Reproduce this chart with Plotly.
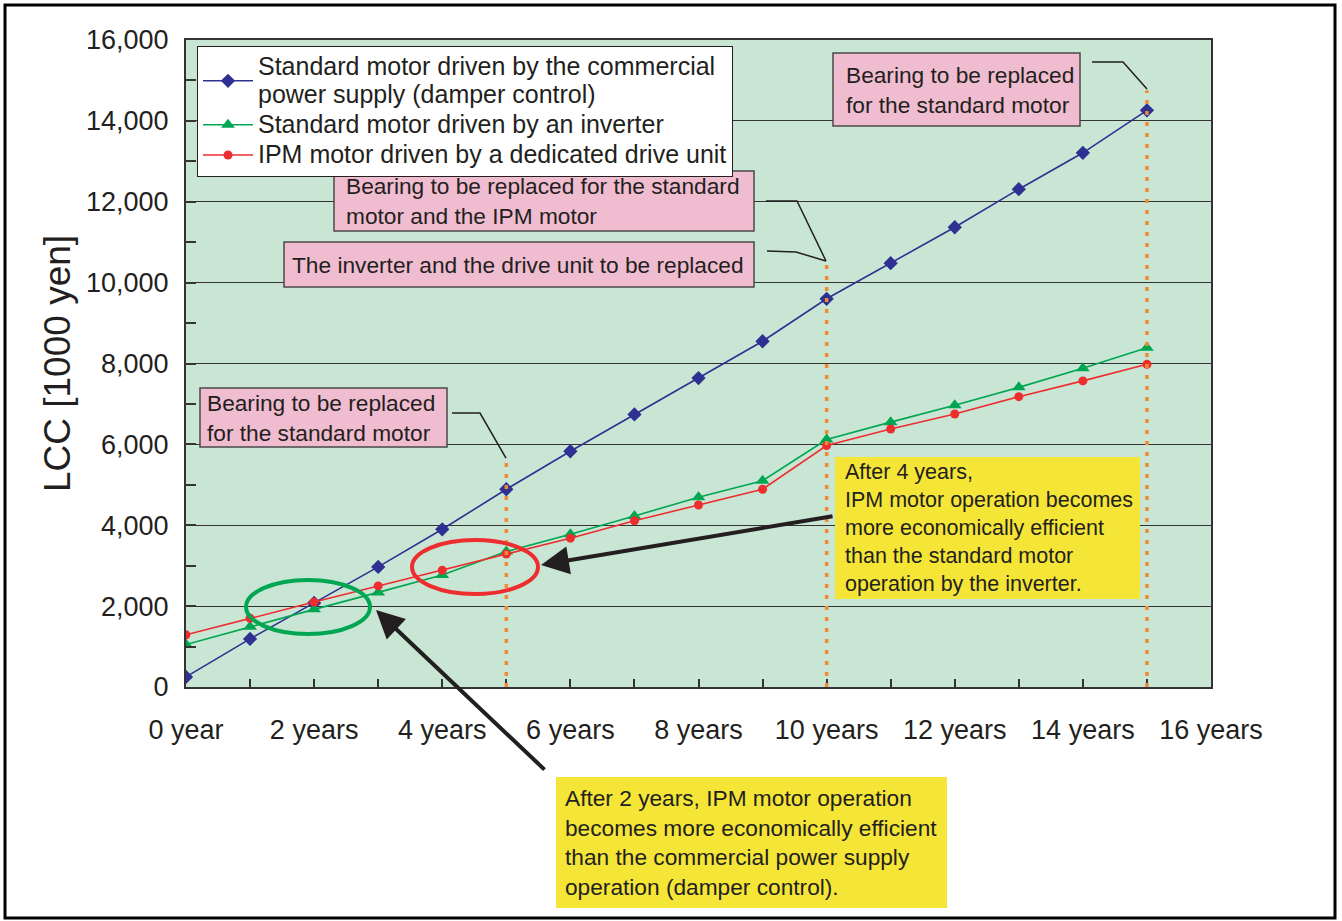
import plotly.graph_objects as go

# ---- data (LCC in 1000 yen) ----
years = list(range(0, 16))
commercial = [250, 1190, 2080, 2970, 3900, 4890, 5830, 6740, 7640, 8550,
              9600, 10480, 11370, 12310, 13210, 14260]
inverter = [1050, 1490, 1920, 2340, 2770, 3350, 3780, 4230, 4690, 5100,
            6120, 6550, 6970, 7410, 7880, 8390]
ipm = [1290, 1700, 2100, 2500, 2890, 3290, 3680, 4110, 4500, 4890,
       5970, 6380, 6750, 7180, 7570, 7980]

series_names = [
    "Standard motor driven by the commercial<br>power supply (damper control)",
    "Standard motor driven by an inverter",
    "IPM motor driven by a dedicated drive unit",
]

x_tick_vals = list(range(0, 17))
x_tick_text = ["0 year", "", "2 years", "", "4 years", "", "6 years", "",
               "8 years", "", "10 years", "", "12 years", "", "14 years", "",
               "16 years"]
y_tick_vals = [0, 2000, 4000, 6000, 8000, 10000, 12000, 14000, 16000]
y_tick_text = ["0", "2,000", "4,000", "6,000", "8,000", "10,000", "12,000",
               "14,000", "16,000"]

# replacement events: year and height of the dotted marker line
event_years = [5, 10, 15]
event_tops = [5660, 10560, 14760]

# ---- geometry of the plotting box (pixels) ----
W, H = 1342, 921
L, R, T, B = 186, 1211, 40, 687


def pp(xp, yp):
    """pixel position -> paper coordinates"""
    return (xp - L) / (R - L), (B - yp) / (B - T)


FONT = "Liberation Sans, Arial, sans-serif"
TXT = "#231F20"
BLUE, GREEN, RED = "#2E3192", "#00A651", "#EE2D2F"
ORANGE = "#F08A33"
PINK, YELLOW = "#F0BCD0", "#F5E536"
LEGEND_TEXT_PX = 25


def legend_label(name):
    return f'<span style="font-size:{LEGEND_TEXT_PX}px">{name}</span>'


fig = go.Figure()
fig.add_trace(go.Scatter(x=years, y=commercial, mode="lines+markers",
                         name=legend_label(series_names[0]),
                         line=dict(color=BLUE, width=1.6),
                         marker=dict(symbol="diamond", size=11, color=BLUE)))
fig.add_trace(go.Scatter(x=years, y=inverter, mode="lines+markers",
                         name=legend_label(series_names[1]),
                         line=dict(color=GREEN, width=1.6),
                         marker=dict(symbol="triangle-up", size=12, color=GREEN)))
fig.add_trace(go.Scatter(x=years, y=ipm, mode="lines+markers",
                         name=legend_label(series_names[2]),
                         line=dict(color=RED, width=1.6),
                         marker=dict(symbol="circle", size=9, color=RED)))

shapes = []
# dotted replacement markers
for yr, top in zip(event_years, event_tops):
    shapes.append(dict(type="line", xref="x", yref="y", x0=yr, x1=yr,
                       y0=0, y1=top,
                       line=dict(color=ORANGE, width=3.5, dash="4px,7px")))


def path(points):
    s = ""
    for i, (xp, yp) in enumerate(points):
        px_, py_ = pp(xp, yp)
        s += ("M" if i == 0 else "L") + f"{px_:.5f},{py_:.5f}"
    return s


# leader lines from the labels to the markers
leaders = [
    [(452, 413), (480, 413), (506, 458)],
    [(766, 201), (797, 201), (826, 261)],
    [(767, 251), (796, 252), (826, 261)],
    [(1092, 62), (1123, 62), (1147, 89)],
]
for pts in leaders:
    shapes.append(dict(type="path", xref="paper", yref="paper", path=path(pts),
                       line=dict(color=TXT, width=1.5)))

# ellipses highlighting the crossover points
for (x0, y0, x1, y1), col in [((246, 580, 370, 634), GREEN),
                              ((412, 540, 538, 594), RED)]:
    a0, b0 = pp(x0, y1)
    a1, b1 = pp(x1, y0)
    shapes.append(dict(type="circle", xref="paper", yref="paper",
                       x0=a0, y0=b0, x1=a1, y1=b1,
                       line=dict(color=col, width=4)))

# outer frame
f0 = pp(5, 918)
f1 = pp(1335, 5)
shapes.append(dict(type="rect", xref="paper", yref="paper",
                   x0=f0[0], y0=f0[1], x1=f1[0], y1=f1[1],
                   line=dict(color="black", width=3), layer="below"))

annotations = []


def box(text, x0, y0, x1, y1, text_x, bg, border, size):
    a0, b0 = pp(x0, y1)
    a1, b1 = pp(x1, y0)
    shapes.append(dict(type="rect", xref="paper", yref="paper",
                       x0=a0, y0=b0, x1=a1, y1=b1, fillcolor=bg,
                       line=dict(color=border if border else bg,
                                 width=1.5 if border else 0)))
    tx, ty = pp(text_x, (y0 + y1) / 2)
    annotations.append(dict(
        text=text, xref="paper", yref="paper", x=tx, y=ty,
        xanchor="left", yanchor="middle", showarrow=False, align="left",
        borderpad=0, font=dict(family=FONT, size=size, color=TXT)))


box("Bearing to be replaced<br>for the standard motor",
    200, 388, 447, 447, 206, PINK, "#4a4a4a", 22.7)
box("Bearing to be replaced for the standard<br>motor and the IPM motor",
    334, 171, 754, 231, 345, PINK, "#4a4a4a", 22.7)
box("The inverter and the drive unit to be replaced",
    284, 242, 754, 287, 291, PINK, "#4a4a4a", 22.7)
box("Bearing to be replaced<br>for the standard motor",
    833, 53, 1080, 126, 845, PINK, "#4a4a4a", 22.7)
box("After 4 years,<br>IPM motor operation becomes<br>more economically efficient"
    "<br>than the standard motor<br>operation by the inverter.",
    835, 457, 1140, 599, 844, YELLOW, None, 21.5)
box("After 2 years, IPM motor operation<br>becomes more economically efficient"
    "<br>than the commercial power supply<br>operation (damper control).",
    556, 777, 947, 908, 564, YELLOW, None, 22.7)

# arrows pointing at the highlighted regions
for (hx, hy), (tx, ty) in [((376, 610), (546, 771)), ((541, 565), (834, 516))]:
    hxp, hyp = pp(hx, hy)
    annotations.append(dict(text="", xref="paper", yref="paper", x=hxp, y=hyp,
                            ax=tx - hx, ay=ty - hy, axref="pixel", ayref="pixel",
                            showarrow=True, arrowhead=2, arrowsize=1.4,
                            arrowwidth=4, arrowcolor="#231F20"))

lx, ly = pp(197, 46)
fig.update_layout(
    width=W, height=H,
    margin=dict(l=L, r=W - R, t=T, b=H - B, pad=0),
    paper_bgcolor="white", plot_bgcolor="#C9E6D5",
    font=dict(family=FONT, color=TXT),
    showlegend=True,
    legend=dict(x=lx, y=ly, xanchor="left", yanchor="top",
                bgcolor="white", bordercolor=TXT, borderwidth=1,
                font=dict(family=FONT, size=21, color=TXT),
                itemwidth=50, tracegroupgap=0),
    xaxis=dict(range=[0, 16], tickmode="array", tickvals=x_tick_vals,
               ticktext=x_tick_text, ticks="inside", ticklen=8,
               tickcolor="#333333", tickwidth=1.5,
               showline=True, linecolor="#333333", linewidth=2, mirror=True,
               showgrid=False, zeroline=False,
               tickfont=dict(family=FONT, size=27, color=TXT),
               ticklabelstandoff=18),
    yaxis=dict(range=[0, 16000], tickmode="array", tickvals=y_tick_vals,
               ticktext=y_tick_text, ticks="inside", ticklen=10,
               tickcolor="#333333", tickwidth=1.5,
               minor=dict(dtick=1000, ticks="inside", ticklen=10,
                          tickcolor="#333333", showgrid=False),
               showline=True, linecolor="#333333", linewidth=2, mirror=True,
               showgrid=True, gridcolor="#333333", gridwidth=1,
               zeroline=False,
               tickfont=dict(family=FONT, size=27, color=TXT),
               ticklabelstandoff=10,
               title=dict(text="LCC [1000 yen]", standoff=4,
                          font=dict(family=FONT, size=37, color=TXT))),
    shapes=shapes,
    annotations=annotations,
)

fig.write_html("out.html")
